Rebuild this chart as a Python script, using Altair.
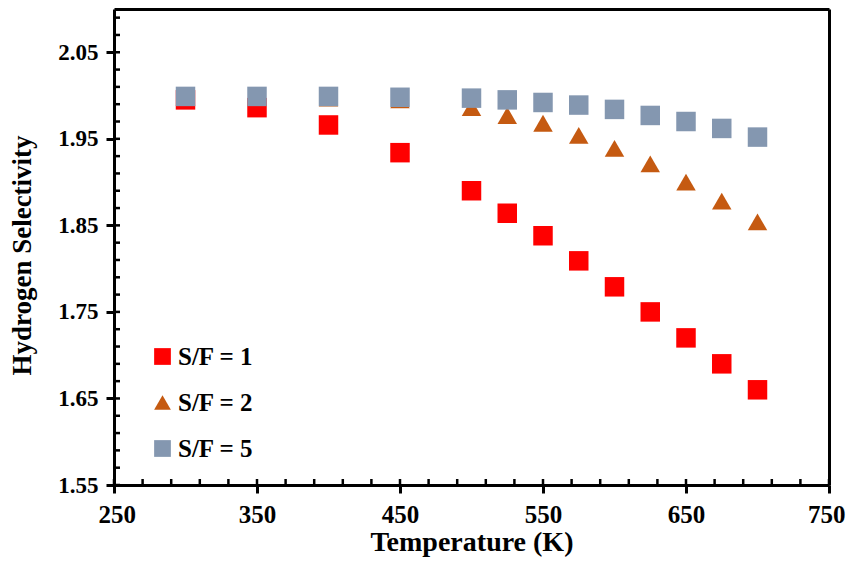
import altair as alt
import pandas as pd

temps = [300, 350, 400, 450, 500, 525, 550, 575, 600, 625, 650, 675, 700]
sf1 = [1.995, 1.986, 1.966, 1.934, 1.890, 1.864, 1.838, 1.809, 1.779, 1.750, 1.720, 1.690, 1.660]
sf2 = [1.998, 1.998, 1.997, 1.995, 1.986, 1.977, 1.968, 1.954, 1.939, 1.921, 1.900, 1.878, 1.854]
sf5 = [1.999, 1.999, 1.999, 1.998, 1.997, 1.995, 1.992, 1.989, 1.984, 1.977, 1.970, 1.962, 1.952]
series_names = ["S/F = 1", "S/F = 2", "S/F = 5"]
series_colors = ["#FF0000", "#C55A11", "#8497B0"]
series_shapes = ["square", "triangle-up", "square"]

x_major = [250, 350, 450, 550, 650, 750]
y_major = [1.55, 1.65, 1.75, 1.85, 1.95, 2.05]
x_minor = list(range(250, 751, 20))
y_minor = [round(1.55 + 0.02 * i, 2) for i in range(28)]

rows = []
for name, vals in zip(series_names, [sf1, sf2, sf5]):
    for t, v in zip(temps, vals):
        rows.append({"T": t, "S": v, "series": name})
df = pd.DataFrame(rows)

W, H = 715, 476
FONT = "Liberation Serif"

xs = alt.Scale(domain=[250, 750], nice=False)
ys = alt.Scale(domain=[1.55, 2.10], nice=False)

points = alt.Chart(df).mark_point(filled=True, opacity=1, size=380).encode(
    x=alt.X("T:Q", scale=xs, title="Temperature (K)",
            axis=alt.Axis(values=x_major, format="d", grid=False, tickSize=8,
                          labelFlush=True, labelFlushOffset=16,
                          tickWidth=3, domainWidth=3, domainColor="black", tickColor="black",
                          labelFontSize=25, labelFontWeight="bold", labelFont=FONT,
                          labelColor="black", labelPadding=9,
                          titleFontSize=28, titleFontWeight="bold", titleFont=FONT,
                          titleColor="black", titlePadding=1)),
    y=alt.Y("S:Q", scale=ys, title="Hydrogen Selectivity",
            axis=alt.Axis(values=y_major, format=".2f", grid=False, tickSize=8, labelFlush=False,
                          tickWidth=3, domainWidth=3, domainColor="black", tickColor="black",
                          labelFontSize=23, labelFontWeight="bold", labelFont=FONT,
                          labelColor="black", labelPadding=8,
                          titleFontSize=27, titleFontWeight="bold", titleFont=FONT,
                          titleColor="black", titlePadding=21, titleY=246)),
    color=alt.Color("series:N", scale=alt.Scale(domain=series_names, range=series_colors),
                    legend=alt.Legend(title=None, orient="none", legendX=36, legendY=335,
                                      labelFontSize=25, labelFontWeight="bold", labelFont=FONT,
                                      labelColor="black", symbolSize=280, rowPadding=20,
                                      labelOffset=3, symbolStrokeWidth=0)),
    shape=alt.Shape("series:N", scale=alt.Scale(domain=series_names, range=series_shapes)),
    order=alt.Order("series:N"),
)

yminor_df = pd.DataFrame({"v": y_minor})
xminor_df = pd.DataFrame({"v": x_minor})

yticks = alt.Chart(yminor_df).mark_rule(color="black", strokeWidth=2.5).encode(
    y=alt.Y("v:Q", scale=ys, axis=None), x=alt.value(0), x2=alt.value(6)
)
xticks = alt.Chart(xminor_df).mark_rule(color="black", strokeWidth=2.5).encode(
    x=alt.X("v:Q", scale=xs, axis=None), y=alt.value(H), y2=alt.value(H - 6)
)

frame_axis = dict(labels=False, ticks=False, title=None, grid=False,
                  domainWidth=3, domainColor="black")
frame = alt.Chart(pd.DataFrame({"v": [250]})).mark_point(opacity=0).encode(
    x=alt.X("v:Q", scale=xs, axis=alt.Axis(orient="top", **frame_axis)),
    y=alt.Y("v2:Q", scale=ys, axis=alt.Axis(orient="right", **frame_axis)),
).transform_calculate(v2="1.6")

chart = alt.layer(points, yticks, xticks, frame).resolve_axis(
    x="independent", y="independent"
).properties(
    width=W, height=H,
    padding={"left": 106, "top": 1, "right": 17, "bottom": 73},
    autosize=alt.AutoSizeParams(type="none"),
).configure_view(stroke=None).configure(background="white")

chart.save("out.html", embed_options={"renderer": "svg", "actions": False})
